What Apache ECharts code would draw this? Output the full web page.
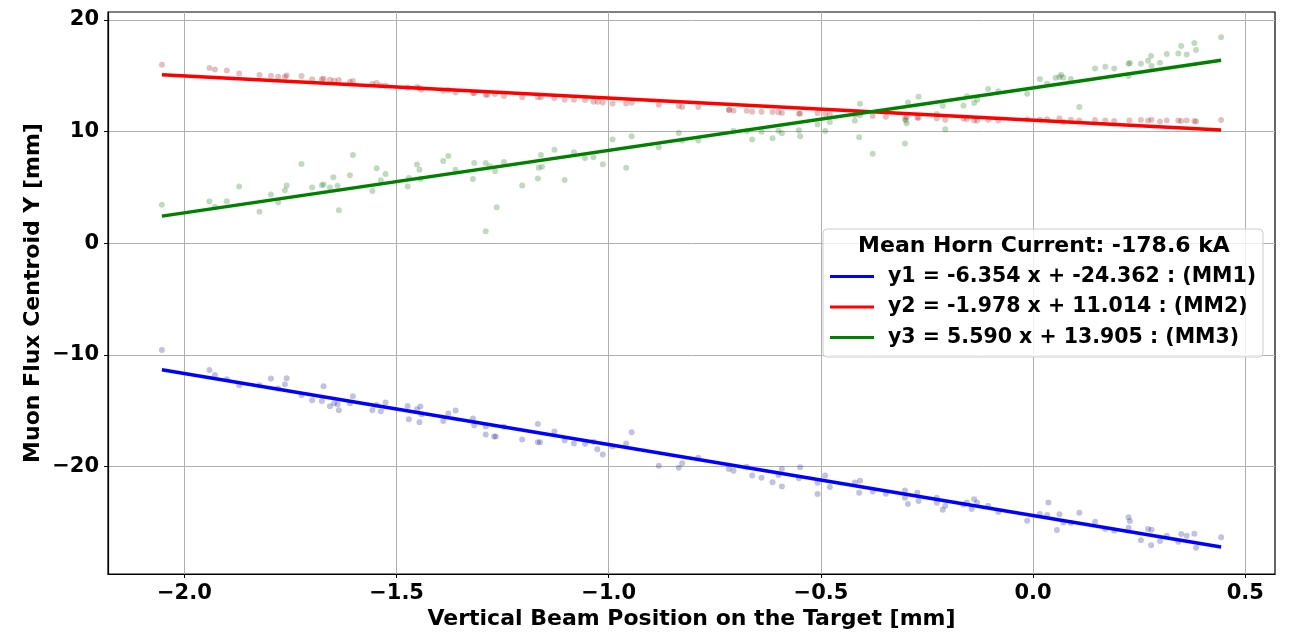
<!DOCTYPE html>
<html>
<head>
<meta charset="utf-8">
<script src="https://cdn.jsdelivr.net/npm/echarts@6/dist/echarts.min.js"></script>
<style>
  html, body { margin: 0; padding: 0; background: #fff; }
  #chart { width: 1290px; height: 633px; }
</style>
</head>
<body>
<div id="chart"></div>
<script>
// scatter points: [beam position, centroid]
const mm1Points = [
  [-2.053,-9.55],[-1.941,-11.34],[-1.928,-11.79],[-1.900,-12.17],[-1.871,-12.71],[-1.823,-12.71],
  [-1.796,-12.11],[-1.779,-13.0],[-1.763,-12.62],[-1.759,-12.08],[-1.724,-13.57],[-1.699,-14.05],
  [-1.676,-14.11],[-1.672,-12.8],[-1.657,-14.58],[-1.647,-14.32],[-1.639,-14.41],[-1.636,-14.94],
  [-1.610,-14.32],[-1.603,-13.69],[-1.557,-14.94],[-1.547,-14.47],[-1.537,-15.03],[-1.526,-14.26],
  [-1.474,-14.56],[-1.471,-15.75],[-1.452,-14.85],[-1.446,-16.01],[-1.444,-14.61],[-1.441,-15.3],
  [-1.390,-15.9],[-1.378,-15.24],[-1.361,-14.97],[-1.320,-15.68],[-1.317,-16.28],[-1.290,-16.4],
  [-1.290,-17.11],[-1.270,-17.29],[-1.266,-17.29],[-1.247,-16.43],[-1.204,-17.56],[-1.167,-16.17],
  [-1.167,-17.8],[-1.162,-17.8],[-1.128,-16.85],[-1.104,-17.65],[-1.082,-17.92],[-1.056,-17.95],
  [-1.036,-17.77],[-1.027,-18.43],[-1.014,-18.9],[-0.991,-18.19],[-0.959,-17.92],[-0.946,-16.91],
  [-0.882,-19.92],[-0.835,-20.1],[-0.827,-19.68],[-0.789,-19.2],[-0.717,-20.21],[-0.706,-20.37],
  [-0.675,-20.0],[-0.662,-20.78],[-0.640,-20.99],[-0.614,-21.38],[-0.600,-20.75],[-0.592,-20.21],
  [-0.592,-21.76],[-0.549,-20.04],[-0.552,-21.02],[-0.508,-21.44],[-0.508,-22.45],[-0.490,-20.78],
  [-0.479,-21.82],[-0.420,-21.4],[-0.408,-21.26],[-0.410,-22.33],[-0.378,-22.21],[-0.347,-22.42],
  [-0.302,-22.12],[-0.302,-22.78],[-0.295,-23.34],[-0.273,-22.33],[-0.270,-23.07],[-0.227,-22.78],
  [-0.227,-23.23],[-0.213,-23.85],[-0.207,-23.49],[-0.164,-23.37],[-0.156,-23.19],[-0.145,-23.79],
  [-0.139,-22.9],[-0.132,-23.19],[-0.106,-23.49],[-0.082,-24.05],[-0.014,-24.83],[0.016,-24.24],
  [0.033,-24.33],[0.036,-23.19],[0.056,-25.67],[0.062,-24.26],[0.071,-24.98],[0.089,-25.04],
  [0.109,-24.12],[0.146,-24.92],[0.170,-25.58],[0.191,-25.73],[0.225,-24.53],[0.228,-24.86],
  [0.225,-25.46],[0.254,-26.59],[0.271,-25.58],[0.279,-25.64],[0.278,-27.03],[0.299,-26.65],
  [0.315,-26.17],[0.342,-26.71],[0.349,-26.02],[0.362,-26.17],[0.380,-25.99],[0.384,-27.25],
  [0.443,-26.32]
];
const mm2Points = [
  [-2.053,15.98],[-1.941,15.68],[-1.928,15.56],[-1.900,15.47],[-1.871,15.2],[-1.823,15.06],
  [-1.796,15.0],[-1.779,14.91],[-1.763,14.91],[-1.759,15.02],[-1.724,14.97],[-1.699,14.67],
  [-1.676,14.67],[-1.672,14.73],[-1.657,14.64],[-1.647,14.55],[-1.636,14.61],[-1.610,14.43],
  [-1.603,14.52],[-1.557,14.25],[-1.547,14.34],[-1.537,14.13],[-1.526,14.13],[-1.474,13.95],
  [-1.452,13.99],[-1.446,13.9],[-1.442,13.74],[-1.390,13.66],[-1.378,13.72],[-1.361,13.5],
  [-1.320,13.45],[-1.317,13.45],[-1.290,13.3],[-1.286,13.3],[-1.268,13.36],[-1.247,13.18],
  [-1.204,13.06],[-1.167,13.06],[-1.160,13.06],[-1.128,13.0],[-1.104,12.85],[-1.082,12.85],
  [-1.056,12.82],[-1.036,12.67],[-1.026,12.67],[-1.014,12.61],[-0.991,12.52],[-0.959,12.52],
  [-0.946,12.58],[-0.882,12.4],[-0.835,12.29],[-0.827,12.2],[-0.789,12.2],[-0.717,11.93],
  [-0.716,11.96],[-0.706,11.87],[-0.675,11.87],[-0.662,11.78],[-0.640,11.78],[-0.614,11.75],
  [-0.600,11.72],[-0.592,11.66],[-0.552,11.6],[-0.549,11.62],[-0.508,11.66],[-0.490,11.57],
  [-0.479,11.51],[-0.420,11.48],[-0.408,11.45],[-0.378,11.39],[-0.347,11.33],[-0.302,11.15],
  [-0.298,11.27],[-0.273,11.24],[-0.270,11.24],[-0.227,11.18],[-0.207,11.06],[-0.164,11.15],
  [-0.156,11.12],[-0.139,11.0],[-0.132,11.0],[-0.106,11.06],[-0.082,11.0],[-0.014,11.09],
  [0.016,11.06],[0.033,11.09],[0.062,11.18],[0.071,10.86],[0.089,11.06],[0.109,11.0],
  [0.146,11.04],[0.170,11.0],[0.191,10.95],[0.227,11.0],[0.254,11.04],[0.271,11.0],
  [0.279,11.06],[0.299,10.91],[0.315,11.0],[0.342,11.0],[0.349,10.95],[0.362,11.0],
  [0.380,10.95],[0.384,10.91],[0.443,11.04]
];
const mm3Points = [
  [-2.053,3.44],[-1.941,3.74],[-1.928,3.26],[-1.900,3.76],[-1.871,5.08],[-1.823,2.82],
  [-1.796,4.36],[-1.779,3.65],[-1.763,4.75],[-1.759,5.17],[-1.724,7.1],[-1.699,4.99],
  [-1.676,5.19],[-1.672,5.25],[-1.657,4.99],[-1.649,5.91],[-1.639,5.14],[-1.636,2.96],
  [-1.610,6.09],[-1.603,7.91],[-1.557,4.69],[-1.547,6.71],[-1.537,5.64],[-1.526,6.21],
  [-1.474,5.08],[-1.471,5.85],[-1.452,7.04],[-1.446,6.57],[-1.444,5.76],[-1.390,7.37],
  [-1.378,7.82],[-1.361,6.57],[-1.320,5.76],[-1.317,7.19],[-1.290,7.19],[-1.290,1.08],
  [-1.280,6.89],[-1.268,6.44],[-1.264,3.23],[-1.247,7.28],[-1.204,5.17],[-1.167,5.79],
  [-1.165,6.75],[-1.160,7.91],[-1.157,6.84],[-1.128,8.36],[-1.104,5.67],[-1.082,8.14],
  [-1.056,7.64],[-1.036,7.69],[-1.014,7.07],[-0.991,9.28],[-0.959,6.77],[-0.946,9.57],
  [-0.882,8.59],[-0.835,9.87],[-0.827,9.19],[-0.789,9.19],[-0.706,10.08],[-0.675,10.02],
  [-0.662,9.28],[-0.640,9.99],[-0.614,9.39],[-0.600,10.08],[-0.592,9.84],[-0.552,10.11],
  [-0.549,9.57],[-0.508,10.62],[-0.490,10.05],[-0.479,10.86],[-0.420,10.97],[-0.408,12.49],
  [-0.410,9.48],[-0.378,8.02],[-0.302,8.92],[-0.300,11.0],[-0.298,10.73],[-0.295,12.61],
  [-0.270,13.12],[-0.227,11.57],[-0.213,12.31],[-0.207,10.2],[-0.164,12.34],[-0.156,13.15],
  [-0.139,12.56],[-0.132,12.85],[-0.106,13.81],[-0.082,13.6],[-0.014,13.39],[0.016,14.7],
  [0.033,14.28],[0.053,14.82],[0.062,14.88],[0.066,15.08],[0.071,14.84],[0.089,14.7],
  [0.109,12.2],[0.146,15.65],[0.170,15.8],[0.191,15.65],[0.225,16.07],[0.228,16.13],
  [0.225,14.97],[0.254,16.07],[0.271,16.34],[0.278,16.76],[0.279,15.86],[0.299,16.16],
  [0.315,16.93],[0.342,16.99],[0.349,17.65],[0.362,16.9],[0.380,17.92],[0.384,17.29],
  [0.443,18.45]
];

// fit lines (end points over the data range)
const fit1 = [[-2.053,-11.32],[0.443,-27.18]];
const fit2 = [[-2.053,15.08],[0.443,10.14]];
const fit3 = [[-2.053,2.43],[0.443,16.38]];
const fitNames = [
  'y1 = -6.354 x + -24.362 : (MM1)',
  'y2 = -1.978 x + 11.014 : (MM2)',
  'y3 = 5.590 x + 13.905 : (MM3)'
];
const legendTitle = 'Mean Horn Current: -178.6 kA';

const xTicks = [-2.0, -1.5, -1.0, -0.5, 0.0, 0.5];
const yTicks = [-20, -10, 0, 10, 20];

const font = 'DejaVu Sans';
const minus = s => s.replace('-', '\u2212');

const chart = echarts.init(document.getElementById('chart'));

function dots(name, data, color) {
  return {
    name: name, type: 'scatter', data: data,
    symbolSize: 6, z: 2, silent: true,
    itemStyle: { color: color }
  };
}
function fitLine(name, data, color) {
  return {
    name: name, type: 'line', data: data,
    showSymbol: false, z: 3, silent: true,
    lineStyle: { color: color, width: 3.5 },
    itemStyle: { color: color }
  };
}

chart.setOption({
  animation: false,
  grid: {
    left: 108, right: 15, top: 12, bottom: 59,
    outerBoundsMode: 'none',
    show: true, borderColor: '#000', borderWidth: 1.2
  },
  xAxis: {
    type: 'value', min: -2.18, max: 0.57,
    name: 'Vertical Beam Position on the Target [mm]',
    nameLocation: 'middle', nameGap: 34, nameMoveOverlap: false,
    nameTextStyle: { fontFamily: font, fontWeight: 'bold', fontSize: 22, color: '#000', verticalAlign: 'top' },
    axisLine: { show: true, onZero: false, lineStyle: { color: '#000', width: 1.2 } },
    axisTick: { show: true, length: 4, lineStyle: { color: '#000' }, customValues: xTicks },
    axisLabel: {
      customValues: xTicks, margin: 9,
      fontFamily: font, fontWeight: 'bold', fontSize: 21, color: '#000',
      formatter: v => minus(Number(v).toFixed(1))
    },
    splitLine: { show: true, lineStyle: { color: '#b0b0b0', width: 1 } }
  },
  yAxis: {
    type: 'value', min: -29.6, max: 20.7,
    name: 'Muon Flux Centroid Y [mm]',
    nameLocation: 'middle', nameGap: 64, nameRotate: 90, nameMoveOverlap: false,
    nameTextStyle: { fontFamily: font, fontWeight: 'bold', fontSize: 22, color: '#000' },
    axisLine: { show: true, onZero: false, lineStyle: { color: '#000', width: 1.2 } },
    axisTick: { show: true, length: 4, lineStyle: { color: '#000' }, customValues: yTicks },
    axisLabel: {
      customValues: yTicks, margin: 9,
      fontFamily: font, fontWeight: 'bold', fontSize: 21, color: '#000',
      formatter: v => minus(String(v))
    },
    splitLine: { show: true, lineStyle: { color: '#b0b0b0', width: 1 } }
  },
  legend: {
    data: fitNames,
    orient: 'vertical', left: 830, top: 266, padding: 0,
    itemWidth: 44, itemHeight: 3, itemGap: 9.5, icon: 'rect',
    z: 10,
    textStyle: { fontFamily: font, fontWeight: 'bold', fontSize: 20.5, color: '#000', lineHeight: 21, padding: [0, 0, 0, 9] }
  },
  graphic: [
    {
      type: 'rect', z: 8, silent: true,
      shape: { x: 823, y: 229, width: 440, height: 128, r: 4 },
      style: { fill: 'rgba(255,255,255,0.8)', stroke: '#cccccc', lineWidth: 1 }
    },
    {
      type: 'text', z: 9, silent: true, x: 1044, y: 246,
      style: {
        text: legendTitle, fill: '#000', align: 'center', verticalAlign: 'middle',
        font: 'bold 22px "DejaVu Sans"'
      }
    }
  ],
  series: [
    dots('MM1 data', mm1Points, 'rgba(0,0,128,0.3)'),
    dots('MM2 data', mm2Points, 'rgba(139,0,0,0.3)'),
    dots('MM3 data', mm3Points, 'rgba(0,100,0,0.3)'),
    fitLine(fitNames[0], fit1, '#0000ff'),
    fitLine(fitNames[1], fit2, '#ff0000'),
    fitLine(fitNames[2], fit3, '#008000')
  ]
});
</script>
</body>
</html>
